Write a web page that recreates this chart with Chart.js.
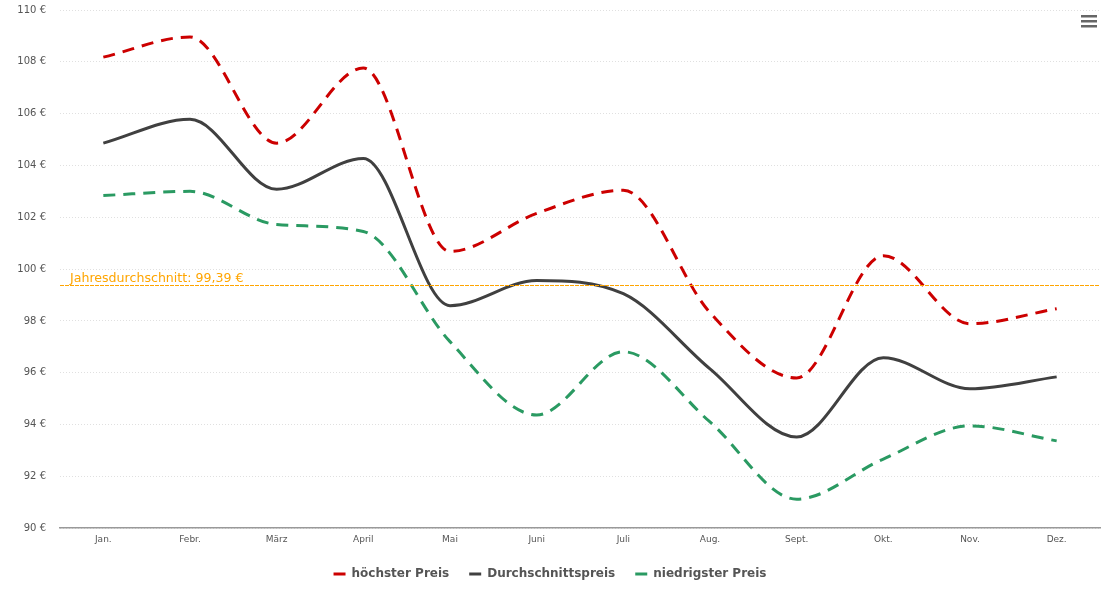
<!DOCTYPE html>
<html><head><meta charset="utf-8">
<script src="https://cdn.jsdelivr.net/npm/chart.js@4/dist/chart.umd.min.js"></script>
<style>html,body{margin:0;padding:0;background:#fff}#wrap{width:1110px;height:605px;position:relative}</style>
</head><body><div id="wrap"><canvas id="c" width="1110" height="605"></canvas></div>
<script>
const categories = ['Jan.','Febr.','März','April','Mai','Juni','Juli','Aug.','Sept.','Okt.','Nov.','Dez.'];
const highest = [108.18,108.96,104.86,107.76,100.68,102.15,103.04,98.32,95.80,100.52,97.89,98.47];
const average = [104.86,105.78,103.08,104.27,98.59,99.56,99.05,96.15,93.52,96.58,95.38,95.84];
const lowest  = [102.84,103.00,101.72,101.45,97.20,94.37,96.81,94.10,91.12,92.67,93.95,93.37];
const seriesNames = ['höchster Preis','Durchschnittspreis','niedrigster Preis'];
const yearAverage = 99.39;
const yearAverageLabel = 'Jahresdurchschnitt: 99,39 €';
const yMin = 90, yMax = 110, yStep = 2;

const FONT = '"DejaVu Sans", Verdana, sans-serif';
const colors = ['#cc0000','#404040','#2a9a62'];

const avgPlugin = {
  id:'avgLine',
  afterDatasetsDraw(chart){
    const {ctx, chartArea, scales:{y}} = chart;
    const py = Math.round(y.getPixelForValue(yearAverage)) + 0.5;
    ctx.save();
    ctx.globalAlpha = 1;
    ctx.strokeStyle = '#ffa500';
    ctx.lineWidth = 1;
    ctx.setLineDash([4,1]);
    ctx.beginPath();
    ctx.moveTo(chartArea.left, py);
    ctx.lineTo(chartArea.right, py);
    ctx.stroke();
    ctx.setLineDash([]);
    ctx.fillStyle = '#ffa500';
    ctx.font = '12.6px ' + FONT;
    ctx.textAlign = 'left';
    ctx.textBaseline = 'alphabetic';
    ctx.fillText(yearAverageLabel, chartArea.left + 10, py - 4);
    // menu icon
    ctx.fillStyle = '#666';
    for (let i = 0; i < 3; i++) ctx.fillRect(1081, 15 + i*5, 16, 2.5);
    ctx.restore();
  }
};

new Chart(document.getElementById('c'), {
  type:'line',
  data:{
    labels: categories,
    datasets:[
      {label:seriesNames[0], data:highest, borderColor:colors[0], backgroundColor:colors[0], borderDash:[12,8]},
      {label:seriesNames[1], data:average, borderColor:colors[1], backgroundColor:colors[1]},
      {label:seriesNames[2], data:lowest, borderColor:colors[2], backgroundColor:colors[2], borderDash:[12,8]}
    ]
  },
  options:{
    responsive:false,
    animation:false,
    layout:{padding:{left:0,right:10,top:10,bottom:15}},
    elements:{
      line:{borderWidth:3, cubicInterpolationMode:'monotone', fill:false, borderCapStyle:'butt'},
      point:{radius:0, hoverRadius:0}
    },
    plugins:{
      tooltip:{enabled:false},
      legend:{
        position:'bottom',
        labels:{
          font:{family:FONT, size:12, weight:'bold'},
          color:'#555',
          boxWidth:12, boxHeight:3,
          padding:20,
          generateLabels(chart){
            return chart.data.datasets.map((d,i)=>({text:d.label, fillStyle:d.borderColor, strokeStyle:d.borderColor, lineWidth:0, datasetIndex:i, fontColor:'#555'}));
          }
        }
      }
    },
    scales:{
      x:{
        offset:true,
        afterFit(s){ s.height += 5; },
        grid:{display:false},
        border:{display:true,color:'#999',width:1.5},
        ticks:{font:{family:FONT,size:9},color:'#555',padding:-2,maxRotation:0}
      },
      y:{
        min:yMin,max:yMax,
        afterFit(s){ s.width = 60; s.paddingTop = 0; },
        border:{display:false, dash:[1,2]},
        grid:{color:'#e0e0e0', lineWidth:1, drawTicks:false},
        ticks:{stepSize:yStep, font:{family:FONT,size:10}, color:'#555', padding:14,
          callback:v=>v+' €'}
      }
    }
  },
  plugins:[avgPlugin]
});
</script></body></html>
